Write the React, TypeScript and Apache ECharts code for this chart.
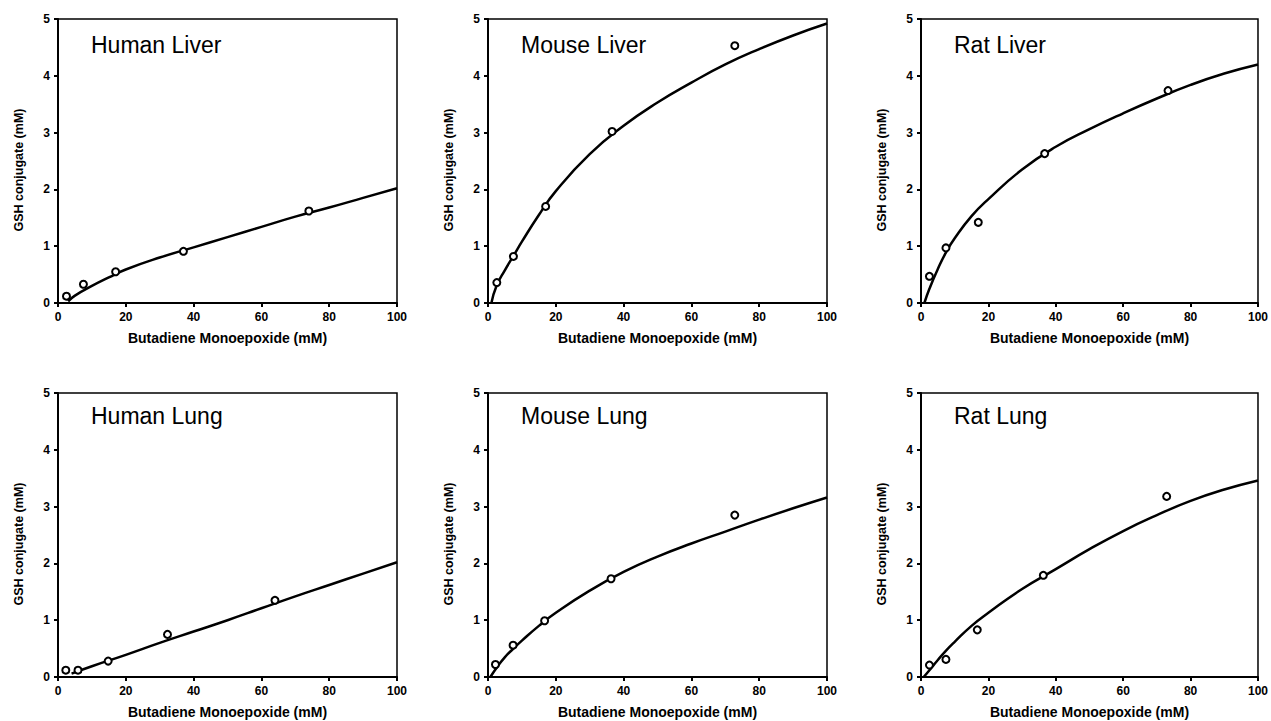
import React, { useEffect, useRef } from "react";
import * as echarts from "echarts";

// ---- Data ----
const panelTitles = ["Human Liver", "Mouse Liver", "Rat Liver", "Human Lung", "Mouse Lung", "Rat Lung"];

const xTicks = [0, 20, 40, 60, 80, 100];
const yTicks = [0, 1, 2, 3, 4, 5];

// Measured points (Butadiene Monoepoxide mM, GSH conjugate mM)
const humanLiverX = [2.5, 7.5, 17, 37, 74];
const humanLiverY = [0.12, 0.33, 0.55, 0.91, 1.62];
const mouseLiverX = [2.6, 7.5, 17, 36.6, 72.8];
const mouseLiverY = [0.36, 0.82, 1.7, 3.02, 4.53];
const ratLiverX = [2.5, 7.4, 17, 36.7, 73.3];
const ratLiverY = [0.47, 0.97, 1.42, 2.63, 3.74];
const humanLungX = [2.3, 5.9, 14.8, 32.3, 64];
const humanLungY = [0.12, 0.12, 0.28, 0.75, 1.35];
const mouseLungX = [2.2, 7.4, 16.7, 36.3, 72.8];
const mouseLungY = [0.22, 0.56, 0.99, 1.73, 2.85];
const ratLungX = [2.5, 7.4, 16.7, 36.3, 72.9];
const ratLungY = [0.21, 0.31, 0.83, 1.79, 3.18];

// Fitted curves
const humanLiverFitX = [3, 5, 10, 15, 20, 30, 40, 50, 60, 70, 80, 90, 100];
const humanLiverFitY = [0.03, 0.13, 0.3, 0.45, 0.59, 0.8, 0.98, 1.16, 1.34, 1.52, 1.68, 1.85, 2.02];
const mouseLiverFitX = [1, 2.5, 5, 7.5, 10, 15, 20, 30, 40, 50, 60, 70, 80, 90, 100];
const mouseLiverFitY = [0, 0.3, 0.58, 0.83, 1.08, 1.55, 1.97, 2.62, 3.12, 3.53, 3.88, 4.2, 4.47, 4.71, 4.92];
const ratLiverFitX = [1, 2.5, 5, 7.5, 10, 15, 20, 30, 40, 50, 60, 70, 80, 90, 100];
const ratLiverFitY = [0, 0.25, 0.6, 0.9, 1.14, 1.53, 1.83, 2.35, 2.75, 3.06, 3.34, 3.6, 3.84, 4.04, 4.2];
const humanLungFitX = [4, 10, 20, 30, 40, 50, 60, 70, 80, 90, 100];
const humanLungFitY = [0.06, 0.19, 0.39, 0.6, 0.8, 1.0, 1.21, 1.42, 1.62, 1.82, 2.02];
const mouseLungFitX = [0.7, 2.5, 5, 7.5, 10, 15, 20, 30, 40, 50, 60, 70, 80, 90, 100];
const mouseLungFitY = [0, 0.16, 0.35, 0.5, 0.64, 0.9, 1.13, 1.52, 1.85, 2.12, 2.35, 2.56, 2.77, 2.97, 3.16];
const ratLungFitX = [0.8, 2.5, 5, 7.5, 10, 15, 20, 30, 40, 50, 60, 70, 80, 90, 100];
const ratLungFitY = [0, 0.12, 0.3, 0.47, 0.62, 0.9, 1.13, 1.55, 1.9, 2.25, 2.57, 2.85, 3.1, 3.3, 3.46];

const xName = "Butadiene Monoepoxide (mM)";
const yName = "GSH conjugate (mM)";

const pointsX = [humanLiverX, mouseLiverX, ratLiverX, humanLungX, mouseLungX, ratLungX];
const pointsY = [humanLiverY, mouseLiverY, ratLiverY, humanLungY, mouseLungY, ratLungY];
const fitX = [humanLiverFitX, mouseLiverFitX, ratLiverFitX, humanLungFitX, mouseLungFitX, ratLungFitX];
const fitY = [humanLiverFitY, mouseLiverFitY, ratLiverFitY, humanLungFitY, mouseLungFitY, ratLungFitY];

const zip = (xs: number[], ys: number[]) => xs.map((x, i) => [x, ys[i]]);

export default function App() {
  const ref = useRef<HTMLDivElement>(null);

  useEffect(() => {
    document.body.style.margin = "0";
    if (!ref.current) return;
    const chart = echarts.init(ref.current, undefined, { renderer: "svg" });

    const FONT = "Liberation Sans, Arial, Helvetica, sans-serif";
    const lefts = [58, 488, 921];
    const tops = [19, 393];
    const W = 339;
    const H = 284;

    const grids: any[] = [];
    const xAxes: any[] = [];
    const yAxes: any[] = [];
    const series: any[] = [];
    const graphics: any[] = [];

    panelTitles.forEach((title, i) => {
      const col = i % 3;
      const row = Math.floor(i / 3);
      const left = lefts[col];
      const top = tops[row];
      grids.push({
        left,
        top,
        width: W,
        height: H,
        show: true,
        borderColor: "#000",
        borderWidth: 1.5,
        backgroundColor: "transparent",
        containLabel: false,
      });
      xAxes.push({
        gridIndex: i,
        type: "value",
        min: xTicks[0],
        max: xTicks[xTicks.length - 1],
        interval: xTicks[1] - xTicks[0],
        name: xName,
        nameLocation: "middle",
        nameGap: 28,
        nameTextStyle: { fontFamily: FONT, fontWeight: "bold", fontSize: 14, color: "#000" },
        axisLine: { show: true, lineStyle: { color: "#000", width: 2 } },
        axisTick: { show: true, length: 4, lineStyle: { color: "#000", width: 2 } },
        axisLabel: { fontFamily: FONT, fontWeight: "bold", fontSize: 12, color: "#000", margin: 8 },
        splitLine: { show: false },
      });
      yAxes.push({
        gridIndex: i,
        type: "value",
        min: yTicks[0],
        max: yTicks[yTicks.length - 1],
        interval: yTicks[1] - yTicks[0],
        name: yName,
        nameLocation: "middle",
        nameGap: 33,
        nameTextStyle: {
          fontFamily: FONT,
          fontWeight: "bold",
          fontSize: 12.5,
          color: "#000",
          padding: [0, 18, 0, 0],
        },
        axisLine: { show: true, lineStyle: { color: "#000", width: 2 } },
        axisTick: { show: true, length: 4, lineStyle: { color: "#000", width: 2 } },
        axisLabel: { fontFamily: FONT, fontWeight: "bold", fontSize: 12, color: "#000", margin: 8 },
        splitLine: { show: false },
      });
      series.push({
        type: "line",
        xAxisIndex: i,
        yAxisIndex: i,
        data: zip(fitX[i], fitY[i]),
        smooth: 0.5,
        showSymbol: false,
        lineStyle: { color: "#000", width: 2.5 },
        z: 2,
      });
      series.push({
        type: "scatter",
        xAxisIndex: i,
        yAxisIndex: i,
        data: zip(pointsX[i], pointsY[i]),
        symbol: "circle",
        symbolSize: 7,
        itemStyle: { color: "#fff", borderColor: "#000", borderWidth: 2, opacity: 1 },
        z: 3,
      });
      graphics.push({
        type: "text",
        x: left + 33,
        y: row === 0 ? 45 : 416,
        style: {
          text: title,
          fontFamily: FONT,
          fontSize: 23,
          fill: "#000",
          textVerticalAlign: "middle",
          verticalAlign: "middle",
        },
      });
    });

    chart.setOption({
      animation: false,
      backgroundColor: "#fff",
      grid: grids,
      xAxis: xAxes,
      yAxis: yAxes,
      series,
      graphic: graphics,
    });

    return () => chart.dispose();
  }, []);

  return <div ref={ref} style={{ width: 1271, height: 721 }} />;
}
